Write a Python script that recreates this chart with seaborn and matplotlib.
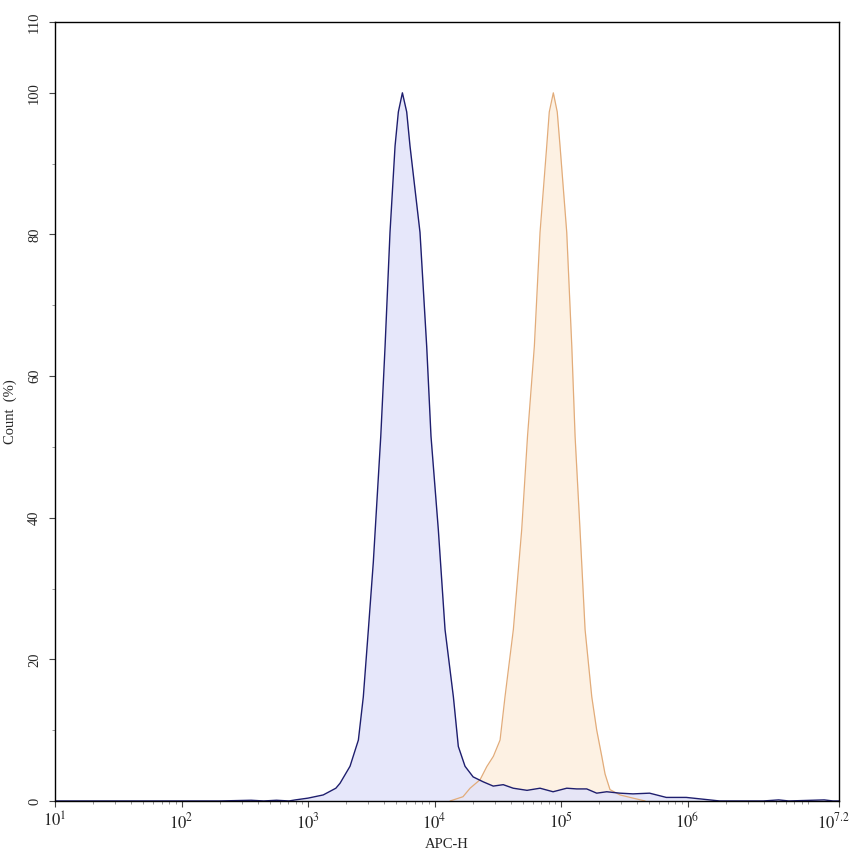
import matplotlib
matplotlib.use('Agg')
import matplotlib.pyplot as plt
import matplotlib.ticker as mticker
import matplotlib.transforms as mtransforms
import numpy as np
import pandas as pd
import seaborn as sns

# Histogram outlines (x as log10 of APC-H, y as Count %).
blue_log = [1.0, 2.3, 2.55, 2.65, 2.75, 2.85, 2.9, 3.0, 3.12, 3.22, 3.253, 3.332,
            3.398, 3.437, 3.477, 3.516, 3.575, 3.609, 3.648, 3.688, 3.714, 3.746,
            3.780, 3.806, 3.885, 3.938, 3.972, 4.030, 4.083, 4.149, 4.188, 4.241,
            4.305, 4.385, 4.464, 4.543, 4.622, 4.731, 4.834, 4.937, 5.045, 5.124,
            5.203, 5.282, 5.361, 5.466, 5.569, 5.700, 5.832, 5.990, 6.148, 6.253,
            6.6, 6.72, 6.8, 7.08, 7.15, 7.2]
blue_count = [0, 0, 0.1, 0, 0.1, 0, 0.15, 0.4, 0.85, 1.8, 2.5, 4.9,
              8.6, 14.7, 24.2, 33.7, 51.5, 64.2, 80.3, 92.5, 97.3, 100,
              97.3, 92.5, 80.3, 64.2, 51.5, 38.3, 24.2, 14.7, 7.7, 4.9,
              3.4, 2.7, 2.1, 2.3, 1.8, 1.5, 1.8, 1.3, 1.8, 1.7,
              1.7, 1.1, 1.3, 1.1, 1.0, 1.1, 0.5, 0.5, 0.2, 0,
              0, 0.15, 0, 0.15, 0, 0]

orange_log = [4.123, 4.225, 4.281, 4.360, 4.413, 4.465, 4.518, 4.557, 4.623, 4.689,
              4.735, 4.789, 4.834, 4.887, 4.907, 4.939, 4.970, 4.992, 5.045, 5.085,
              5.111, 5.150, 5.190, 5.243, 5.282, 5.322, 5.348, 5.387, 5.466, 5.569,
              5.664]
orange_count = [0, 0.6, 1.8, 3.0, 4.85, 6.3, 8.6, 14.7, 24.2, 38.3,
                51.5, 64.2, 80.3, 92.5, 97.3, 100, 97.3, 92.5, 80.3, 64.2,
                51.5, 38.3, 24.2, 14.7, 10.0, 6.3, 3.8, 1.6, 0.85, 0.4,
                0]

x_ticks_log = [1, 2, 3, 4, 5, 6, 7.2]
x_tick_labels = [r'$10^{1}$', r'$10^{2}$', r'$10^{3}$', r'$10^{4}$',
                 r'$10^{5}$', r'$10^{6}$', r'$10^{7.2}$']
y_ticks = [0, 20, 40, 60, 80, 100, 110]

blue_df = pd.DataFrame({'APC-H': 10 ** np.array(blue_log), 'Count': blue_count})
orange_df = pd.DataFrame({'APC-H': 10 ** np.array(orange_log), 'Count': orange_count})

sns.set_theme(style='ticks')
plt.rcParams['font.family'] = ['Liberation Serif', 'DejaVu Serif']
plt.rcParams['mathtext.fontset'] = 'stix'

fig = plt.figure(figsize=(8.53, 8.56), dpi=100)
ax = fig.add_axes([0.0645, 0.0643, 0.9195, 0.9100])

# Orange sample first, blue on top.
ax.fill_between(orange_df['APC-H'], orange_df['Count'], color='#fdf1e3', lw=0)
sns.lineplot(data=orange_df, x='APC-H', y='Count', sort=False, estimator=None,
             color='#e2ac7a', lw=0.9, ax=ax)
ax.fill_between(blue_df['APC-H'], blue_df['Count'], color='#e2e3fa', alpha=0.85, lw=0)
sns.lineplot(data=blue_df, x='APC-H', y='Count', sort=False, estimator=None,
             color='#1e1e6e', lw=1.0, ax=ax)

ax.set_xscale('log')
ax.set_xlim(10 ** 1, 10 ** 7.2)
ax.set_ylim(0, 110)
ax.set_xticks([10 ** v for v in x_ticks_log])
ax.set_xticklabels(x_tick_labels, fontsize=12)
ax.xaxis.set_minor_locator(mticker.LogLocator(base=10, subs=np.arange(2, 10)))
ax.xaxis.set_minor_formatter(mticker.NullFormatter())
ax.set_yticks(y_ticks)
ax.set_yticklabels([str(v) for v in y_ticks], rotation=90, va='center', fontsize=10.5)
ax.yaxis.set_minor_locator(mticker.MultipleLocator(10))

ax.tick_params(axis='both', which='major', direction='out', length=4, width=0.8,
               color='#444444', pad=4)
ax.tick_params(axis='both', which='minor', direction='out', length=2.5, width=0.6,
               color='#888888')
ax.tick_params(axis='y', pad=6)

# Keep the last x label inside the figure edge.
last = ax.get_xticklabels()[-1]
last.set_transform(last.get_transform() +
                   mtransforms.ScaledTranslation(-6 / 100, 0, fig.dpi_scale_trans))

for side in ax.spines.values():
    side.set_color('black')
    side.set_linewidth(1.0)

ax.set_xlabel('APC-H', fontsize=10.5, labelpad=4)
ax.set_ylabel('Count  (%)', fontsize=10.5, labelpad=8)

plt.savefig('out.png', dpi=100)
